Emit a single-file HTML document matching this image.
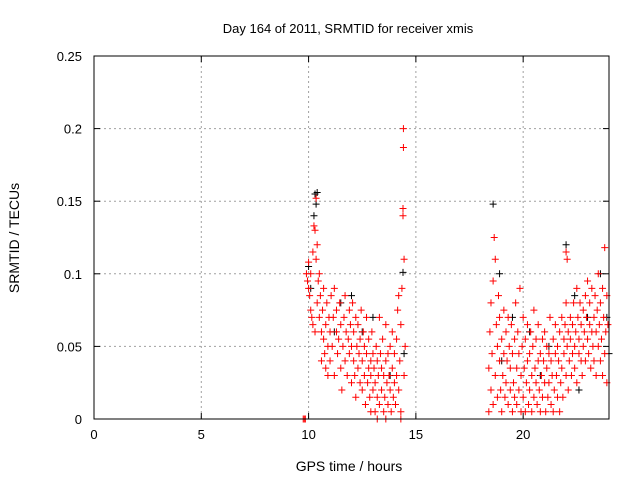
<!DOCTYPE html>
<html><head><meta charset="utf-8"><style>
body{margin:0;background:#fff}
svg{display:block;font-family:"Liberation Sans",sans-serif}
</style></head><body>
<svg id="chart" width="640" height="480">
<text x="348" y="33" font-size="13" text-anchor="middle">Day 164 of 2011, SRMTID for receiver xmis</text>
<text x="349" y="471" font-size="14" text-anchor="middle">GPS time / hours</text>
<text transform="translate(19,238) rotate(-90)" font-size="14" text-anchor="middle">SRMTID / TECUs</text>
<g id="grid"></g>
<g id="ticks"></g>
<g id="black"></g>
<g id="red"></g>
<rect x="94" y="56" width="515" height="363" fill="none" stroke="#000" stroke-width="1"/>
</svg>
<script>
const xTicks=[0,5,10,15,20];
const yTicks=[0,0.05,0.1,0.15,0.2,0.25];
const yTickLabels=["0","0.05","0.1","0.15","0.2","0.25"];
const redT=[9.75,9.8,9.85,9.9,9.95,10.0,10.0,10.05,10.1,10.1,10.15,10.2,10.2,10.25,10.3,10.3,10.35,10.35,10.4,10.4,10.45,10.5,10.5,10.55,10.6,10.6,10.65,10.7,10.7,10.75,10.8,10.8,10.85,10.9,10.9,10.95,11.0,11.0,11.05,11.1,11.15,11.2,11.2,11.3,11.3,11.35,11.4,11.45,11.5,11.5,11.55,11.6,11.65,11.7,11.7,11.75,11.8,11.85,11.9,11.9,11.95,12.0,12.0,12.05,12.1,12.1,12.15,12.2,12.2,12.25,12.3,12.3,12.35,12.4,12.4,12.45,12.5,12.5,12.55,12.6,12.6,12.65,12.7,12.7,12.75,12.8,12.8,12.85,12.9,12.9,12.95,13.0,13.0,13.05,13.1,13.1,13.15,13.2,13.2,13.25,13.3,13.3,13.35,13.4,13.4,13.45,13.5,13.5,13.55,13.6,13.6,13.65,13.7,13.7,13.75,13.8,13.8,13.85,13.9,13.9,13.95,14.0,14.0,14.05,14.1,14.1,14.15,14.2,14.2,14.25,14.3,14.3,14.35,14.4,14.4,14.42,14.42,14.45,14.45,14.5,14.3,13.6,13.2,12.9,
18.4,18.4,18.45,18.5,18.5,18.55,18.6,18.6,18.65,18.7,18.7,18.75,18.8,18.8,18.85,18.9,18.9,18.95,19.0,19.0,19.05,19.1,19.1,19.15,19.2,19.2,19.25,19.3,19.3,19.35,19.4,19.4,19.45,19.5,19.5,19.55,19.6,19.6,19.65,19.7,19.7,19.75,19.8,19.8,19.85,19.9,19.9,19.95,20.0,20.0,20.05,20.1,20.1,20.15,20.2,20.2,20.25,20.3,20.3,20.35,20.4,20.4,20.45,20.5,20.5,20.55,20.6,20.6,20.65,20.7,20.7,20.75,20.8,20.8,20.85,20.9,20.9,20.95,21.0,21.0,21.05,21.1,21.1,21.15,21.2,21.2,21.25,21.3,21.3,21.35,21.4,21.4,21.45,21.5,21.5,21.55,21.6,21.6,21.65,21.7,21.7,21.75,21.8,21.8,21.85,21.9,21.9,21.95,22.0,22.0,22.05,22.1,22.1,22.15,22.2,22.2,22.25,22.3,22.3,22.35,22.4,22.4,22.45,22.5,22.5,22.55,22.6,22.6,22.65,22.7,22.7,22.75,22.8,22.8,22.85,22.9,22.9,22.95,23.0,23.0,23.05,23.1,23.1,23.15,23.2,23.2,23.25,23.3,23.3,23.35,23.4,23.4,23.45,23.5,23.5,23.55,23.6,23.6,23.65,23.7,23.7,23.75,23.8,23.8,23.85,23.9,23.9,23.95,22.0,22.05];
const redV=[0,0,0,.1,.095,.108,.09,.085,.075,.1,.07,.065,.115,.133,.13,.06,.152,.11,.12,.08,.095,.07,.1,.085,.06,.04,.075,.09,.055,.045,.065,.035,.08,.05,.03,.07,.06,.04,.085,.05,.07,.03,.09,.06,.075,.045,.055,.08,.065,.035,.02,.05,.07,.085,.04,.06,.03,.055,.075,.045,.065,.05,.025,.08,.04,.06,.03,.07,.015,.05,.035,.065,.045,.025,.055,.075,.04,.02,.06,.03,.05,.01,.045,.07,.025,.035,.055,.015,.04,.03,.06,.02,.045,.035,.005,.025,.05,.015,.04,.03,.07,.01,.045,.02,.035,.055,.005,.03,.015,.04,.065,.025,.01,.045,.03,.02,.05,.005,.035,.06,.015,.025,.045,.01,.055,.03,.075,.02,.085,.04,.005,.065,.09,.145,.14,.2,.187,.11,.03,.05,0,0,0,.005,
.005,.035,.06,.02,.08,.045,.01,.095,.125,.11,.03,.065,.05,.015,.085,.04,.07,.02,.055,.005,.03,.075,.045,.015,.06,.025,.04,.01,.07,.05,.02,.035,.065,.005,.045,.025,.055,.015,.08,.035,.01,.06,.045,.02,.09,.03,.005,.05,.07,.015,.035,.055,.005,.025,.04,.065,.01,.045,.02,.06,.03,.005,.05,.015,.075,.035,.025,.055,.01,.04,.065,.02,.045,.005,.03,.055,.015,.04,.025,.06,.005,.035,.05,.015,.045,.025,.07,.01,.04,.03,.055,.005,.02,.045,.065,.03,.015,.05,.04,.005,.06,.025,.07,.035,.015,.055,.045,.065,.03,.08,.05,.02,.06,.04,.07,.055,.03,.065,.045,.08,.05,.035,.06,.09,.025,.07,.045,.055,.08,.04,.065,.03,.075,.05,.06,.085,.04,.07,.055,.095,.045,.065,.08,.035,.06,.09,.05,.07,.04,.085,.03,.06,.075,.05,.1,.065,.04,.08,.055,.09,.03,.07,.118,.045,.06,.085,.025,.065,.115,.11];
const blackT=[10.3,10.35,10.4,10.25,10.0,10.1,11.5,12.5,13.0,14.4,14.45,13.8,11.2,18.6,18.9,19.5,20.3,21.2,22.0,22.4,23.0,23.6,23.9,24.0,20.8,22.6,19.0,12.0];
const blackV=[.155,.148,.156,.14,.105,.09,.08,.06,.07,.101,.045,.03,.06,.148,.1,.07,.06,.05,.12,.085,.07,.1,.07,.045,.03,.02,.04,.085];
const NS="http://www.w3.org/2000/svg";
const X0=94,X1=609,Y0=419,Y1=56;
const xs=t=>X0+(t/24)*(X1-X0);
const ys=v=>Y0-(v/0.25)*(Y0-Y1);
function mk(tag,attrs,parent){const e=document.createElementNS(NS,tag);for(const k in attrs)e.setAttribute(k,attrs[k]);parent.appendChild(e);return e;}
const grid=document.getElementById('grid'),ticks=document.getElementById('ticks');
xTicks.forEach(t=>{
  const x=xs(t);
  if(t>0){const l=mk('line',{x1:x,x2:x,y1:Y1,y2:Y0,stroke:'#a0a0a0','stroke-dasharray':'2,3'},grid);
  
  }
  mk('line',{x1:x,x2:x,y1:Y0,y2:Y0-6,stroke:'#000'},ticks);
  mk('line',{x1:x,x2:x,y1:Y1,y2:Y1+6,stroke:'#000'},ticks);
  const tx=mk('text',{x:x,y:Y0+20,'font-size':13,'text-anchor':'middle'},ticks);
  tx.textContent=String(t);
  
  
});
yTicks.forEach((v,i)=>{
  const y=ys(v);
  if(v>0){const l=mk('line',{x1:X0,x2:X1,y1:y,y2:y,stroke:'#a0a0a0','stroke-dasharray':'2,3'},grid);
  
  }
  mk('line',{x1:X0,x2:X0+6,y1:y,y2:y,stroke:'#000'},ticks);
  mk('line',{x1:X1,x2:X1-6,y1:y,y2:y,stroke:'#000'},ticks);
  const tx=mk('text',{x:X0-12,y:y+5,'font-size':13,'text-anchor':'end'},ticks);
  tx.textContent=yTickLabels[i];
  
  
});
function plus(g,t,v,col){
  const x=xs(t),y=ys(v);
  const p=mk('path',{d:`M${x-3.5},${y}H${x+3.5}M${x},${y-3.5}V${y+3.5}`,stroke:col,'stroke-width':1,fill:'none'},g);
  
  
}
const gb=document.getElementById('black'),gr=document.getElementById('red');
blackT.forEach((t,i)=>plus(gb,t,blackV[i],'#000'));
redT.forEach((t,i)=>plus(gr,t,redV[i],'#f00'));
</script>
</body></html>
